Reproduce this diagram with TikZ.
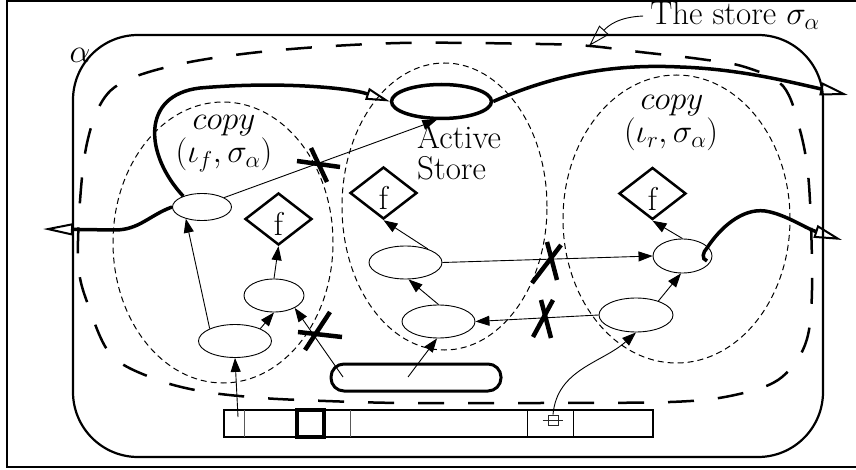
\RequirePackage{fix-cm}
\documentclass[tikz,border=0pt]{standalone}
\usetikzlibrary{arrows.meta,shapes.geometric}
\begin{document}
\begin{tikzpicture}[x=1pt,y=-1pt,
  font=\fontsize{33}{36}\selectfont,
  flow/.style={line width=3.5pt},
  bighead/.style={-{Triangle[open,length=28pt,width=13pt,line width=2pt]}},
  cell/.style={draw, ellipse, line width=0.9pt, inner sep=0pt},
  fdia/.style={draw, diamond, line width=2.5pt, inner sep=0pt, minimum width=67pt, minimum height=52pt},
  flabel/.style={anchor=base, inner sep=0pt},
  region/.style={draw, ellipse, line width=1pt, dash pattern=on 6pt off 4pt, inner sep=0pt},
  link/.style={line width=0.9pt, -{Triangle[length=14pt,width=10pt]}},
  cross/.style={line width=4.5pt},
  lbl/.style={inner sep=0pt}
]
\useasboundingbox (0,0) rectangle (856,470);
% frame
\draw[line width=2pt] (7,1) rectangle (880,467);
% alpha box
\draw[line width=2.2pt, rounded corners=65pt] (73,35) rectangle (823,457);
\node[lbl, anchor=base] (alphaT) at (80,63) {$\alpha$};
% store sigma_alpha
\draw[line width=2.5pt, dash pattern=on 26pt off 24pt] plot[smooth cycle, tension=0.55] coordinates {
 (84,160) (100,105) (127,80) (190,62) (280,50) (400,43) (540,44) (590,46) (640,52) (700,59) (745,67) (783,86) (800,130) (809,185) (812,290) (805,345) (778,380) (730,396) (670,402) (540,403) (400,403) (300,400) (250,397) (200,391) (155,379) (112,356) (90,310) (78,260)};
\node[lbl, anchor=base] (storeT) at (735,25) {The store $\sigma_\alpha$};
\coordinate (ptip) at (589,46);
\draw[line width=0.9pt, -{Triangle[open,length=22pt,width=13pt,line width=0.9pt]}] ([xshift=-7pt]storeT.west) .. controls (618,17) and (608,26) .. (ptip);
% dashed regions
\node[region, minimum width=220pt, minimum height=281pt] (regL) at (223,242.5) {};
\node[region, minimum width=205pt, minimum height=287pt] (regA) at (444.5,206.5) {};
\node[region, minimum width=227pt, minimum height=288pt] (regR) at (676.5,219) {};
% texts
\node[lbl, anchor=base] (copyL) at (224,130) {$copy$};
\node[lbl, anchor=base] (argL) at (224,163) {$(\iota_f,\sigma_\alpha)$};
\node[lbl, anchor=base] (copyR) at (672,110) {$copy$};
\node[lbl, anchor=base] (argR) at (671,143) {$(\iota_r,\sigma_\alpha)$};
\node[lbl, anchor=base west] (ASa) at (417,149) {Active};
\node[lbl, anchor=base west] (ASb) at (417,180) {Store};
% active store
\node[draw, ellipse, line width=3.5pt, inner sep=0pt, minimum width=100pt, minimum height=34pt] (AS) at (441.5,101.5) {};
% cells
\node[cell, minimum width=59pt, minimum height=27pt] (L1) at (202,207) {};
\node[cell, minimum width=73pt, minimum height=33pt] (L2) at (235,341) {};
\node[cell, minimum width=60pt, minimum height=33pt] (L3) at (274,295.5) {};
\node[cell, minimum width=73pt, minimum height=33pt] (A1) at (405.5,262.5) {};
\node[cell, minimum width=73pt, minimum height=33pt] (A2) at (438.5,321.5) {};
\node[cell, minimum width=59pt, minimum height=34pt] (R1) at (682.5,256) {};
\node[cell, minimum width=74pt, minimum height=34pt] (R2) at (636,315) {};
% diamonds
\node[fdia] (Lf) at (278.5,219) {};
\node[flabel] at ([yshift=-17pt]Lf.center) {f};
\node[fdia] (Af) at (383.5,193) {};
\node[flabel] at ([yshift=-17pt]Af.center) {f};
\node[fdia] (Rf) at (652.5,193.5) {};
\node[flabel] at ([yshift=-17pt]Rf.center) {f};
% pill
\node[draw, rounded corners=13pt, line width=3pt, minimum width=170pt, minimum height=27pt, inner sep=0pt] (pill) at (416,377.5) {};
\coordinate (pillA) at (343,377);
\coordinate (pillB) at (408,377);
% bar
\node[draw, line width=2pt, minimum width=429pt, minimum height=27pt, inner sep=0pt] (bar) at (438.5,423.5) {};
\draw[line width=0.9pt, black!65] (244,410) -- (244,437) (350,410) -- (350,437);
\draw[line width=0.9pt] (527,410) -- (527,437) (573,410) -- (573,437);
\node[draw, line width=4pt, minimum size=27pt, inner sep=0pt] (bigsq) at (310.5,423.5) {};
\node[draw, line width=0.8pt, black!85, minimum size=10pt, inner sep=0pt] (sq) at (553,420) {};
\draw[line width=0.8pt, black!85] ([xshift=-5pt]sq.west) -- ([xshift=5pt]sq.east);
\coordinate (barL) at (238,417);
% thin links
\draw[link] (barL) -- (L2.south);
\draw[link] (L2.154) -- (L1.216);
\draw[link] (L2.26) -- (L3.south);
\draw[link] (L3.north) -- (Lf.south);
\draw[link] (L1.23) -- (AS.255);
\draw[link] (pillA) -- (L3.329);
\draw[link] (pillB) -- (A2.265);
\draw[link] (A2.north) -- (A1.280);
\draw[link] (A1.31) -- (Af.south);
\draw[link] (A1.east) -- (R1.west);
\draw[link] (R2.west) -- (A2.east);
\draw[link] (R2.32) -- (R1.265);
\draw[link] (R1.north) -- (Rf.south);
\draw[link] (sq.north) to[out=85, in=222] (R2.south);
% crosses
\draw[cross] (297,161) -- (340,167); \draw[cross] (311,148) -- (327,182);
\draw[cross] (298,332) -- (342,337); \draw[cross] (330,312) -- (305,350);
\draw[cross] (532,283) -- (561,245); \draw[cross] (547,242) -- (557,280);
\draw[cross] (533,337) -- (553,300); \draw[cross] (541,300) -- (551,338);
% control flow
\coordinate (lefttip) at (43,229);
\coordinate (toptip) at (848,95);
\coordinate (righttip) at (842,240);
\coordinate (hook) at (707,261);
\draw[flow, -{Triangle[open,length=30pt,width=12pt,line width=2pt]}] (L1.west) to[out=200, in=0] (115,230) -- (lefttip);
\draw[flow, -{Triangle[open,length=24pt,width=12pt,line width=2pt]}] (L1.150) .. controls (145,155) and (140,95) .. (200,88) .. controls (280,81) and (350,88) .. (AS.west);
\draw[flow, bighead] (AS.east) .. controls (560,72) and (620,64) .. (680,67) .. controls (740,69) and (790,82) .. (toptip);
\draw[flow, bighead] (hook) .. controls (701,259) and (703,252) .. (707,248) .. controls (720,228) and (742,208) .. (765,211) .. controls (785,214) and (805,228) .. (righttip);
\end{tikzpicture}
\end{document}
